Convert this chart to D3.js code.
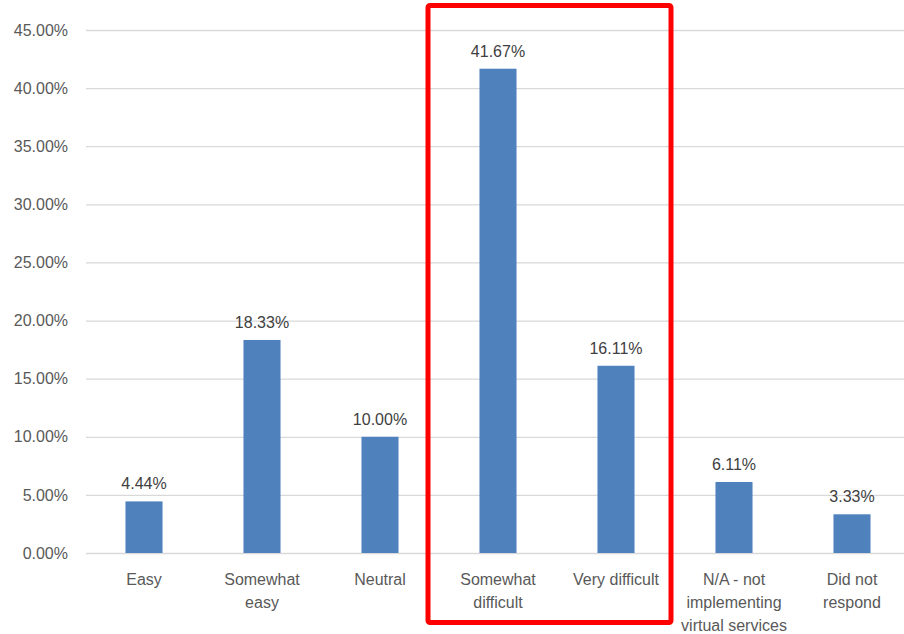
<!DOCTYPE html>
<html>
<head>
<meta charset="utf-8">
<script src="https://cdn.jsdelivr.net/npm/d3@7"></script>
<style>
  html, body { margin: 0; padding: 0; background: #ffffff; }
  svg { display: block; }
</style>
</head>
<body>
<svg id="chart" width="904" height="634"></svg>
<script>
// ---- data ----
const categories = [
  "Easy",
  "Somewhat\neasy",
  "Neutral",
  "Somewhat\ndifficult",
  "Very difficult",
  "N/A - not\nimplementing\nvirtual services",
  "Did not\nrespond"
];
const values = [4.44, 18.33, 10.00, 41.67, 16.11, 6.11, 3.33];
const yTicks = [0, 5, 10, 15, 20, 25, 30, 35, 40, 45];
const highlighted = ["Somewhat\ndifficult", "Very difficult"];

// ---- layout ----
const svg = d3.select("#chart");
const plotLeft = 86, plotRight = 904;
const y0 = 553, yTop = 30;
const font = "'Liberation Sans', Arial, sans-serif";

const x = d3.scaleBand()
  .domain(categories)
  .range([85, 911])
  .paddingInner(0.686)
  .paddingOuter(0.343);

const y = d3.scaleLinear().domain([0, 45]).range([y0, yTop]);

// gridlines + tick labels via axis
const yAxis = d3.axisLeft(y)
  .tickValues(yTicks)
  .tickSize(-(plotRight - plotLeft))
  .tickPadding(18)
  .tickFormat(d => d.toFixed(2) + "%");

const gAxis = svg.append("g")
  .attr("transform", `translate(${plotLeft},0)`)
  .call(yAxis);
gAxis.select(".domain").remove();
gAxis.selectAll(".tick line")
  .attr("stroke", "#d9d9d9")
  .attr("stroke-width", 1.3);
gAxis.selectAll(".tick text")
  .attr("fill", "#595959")
  .style("font-family", font)
  .style("font-size", "16px");

// bars
svg.append("g").selectAll("rect")
  .data(values)
  .join("rect")
  .attr("x", (d, i) => x(categories[i]))
  .attr("width", x.bandwidth())
  .attr("y", d => y(d))
  .attr("height", d => y(0) - y(d))
  .attr("fill", "#4f81bd");

// value labels
svg.append("g").selectAll("text")
  .data(values)
  .join("text")
  .attr("x", (d, i) => x(categories[i]) + x.bandwidth() / 2)
  .attr("y", d => y(d) - 12)
  .attr("text-anchor", "middle")
  .attr("fill", "#404040")
  .style("font-family", font)
  .style("font-size", "16px")
  .text(d => d.toFixed(2) + "%");

// category labels
const catG = svg.append("g");
categories.forEach(c => {
  const t = catG.append("text")
    .attr("x", x(c) + x.bandwidth() / 2)
    .attr("y", 585)
    .attr("text-anchor", "middle")
    .attr("fill", "#595959")
    .style("font-family", font)
    .style("font-size", "16px");
  c.split("\n").forEach((line, i) => {
    t.append("tspan")
      .attr("x", x(c) + x.bandwidth() / 2)
      .attr("y", 585 + i * 23)
      .text(line);
  });
});

// red highlight box around the two difficult categories
const gap = (x.step() - x.bandwidth()) / 2;
const hx0 = x(highlighted[0]) - gap - 11;
const hx1 = x(highlighted[1]) + x.bandwidth() + gap - 4;
svg.append("rect")
  .attr("x", hx0)
  .attr("y", 5.5)
  .attr("width", hx1 - hx0)
  .attr("height", 617)
  .attr("rx", 2)
  .attr("fill", "none")
  .attr("stroke", "#ff0000")
  .attr("stroke-width", 5);
</script>
</body>
</html>
